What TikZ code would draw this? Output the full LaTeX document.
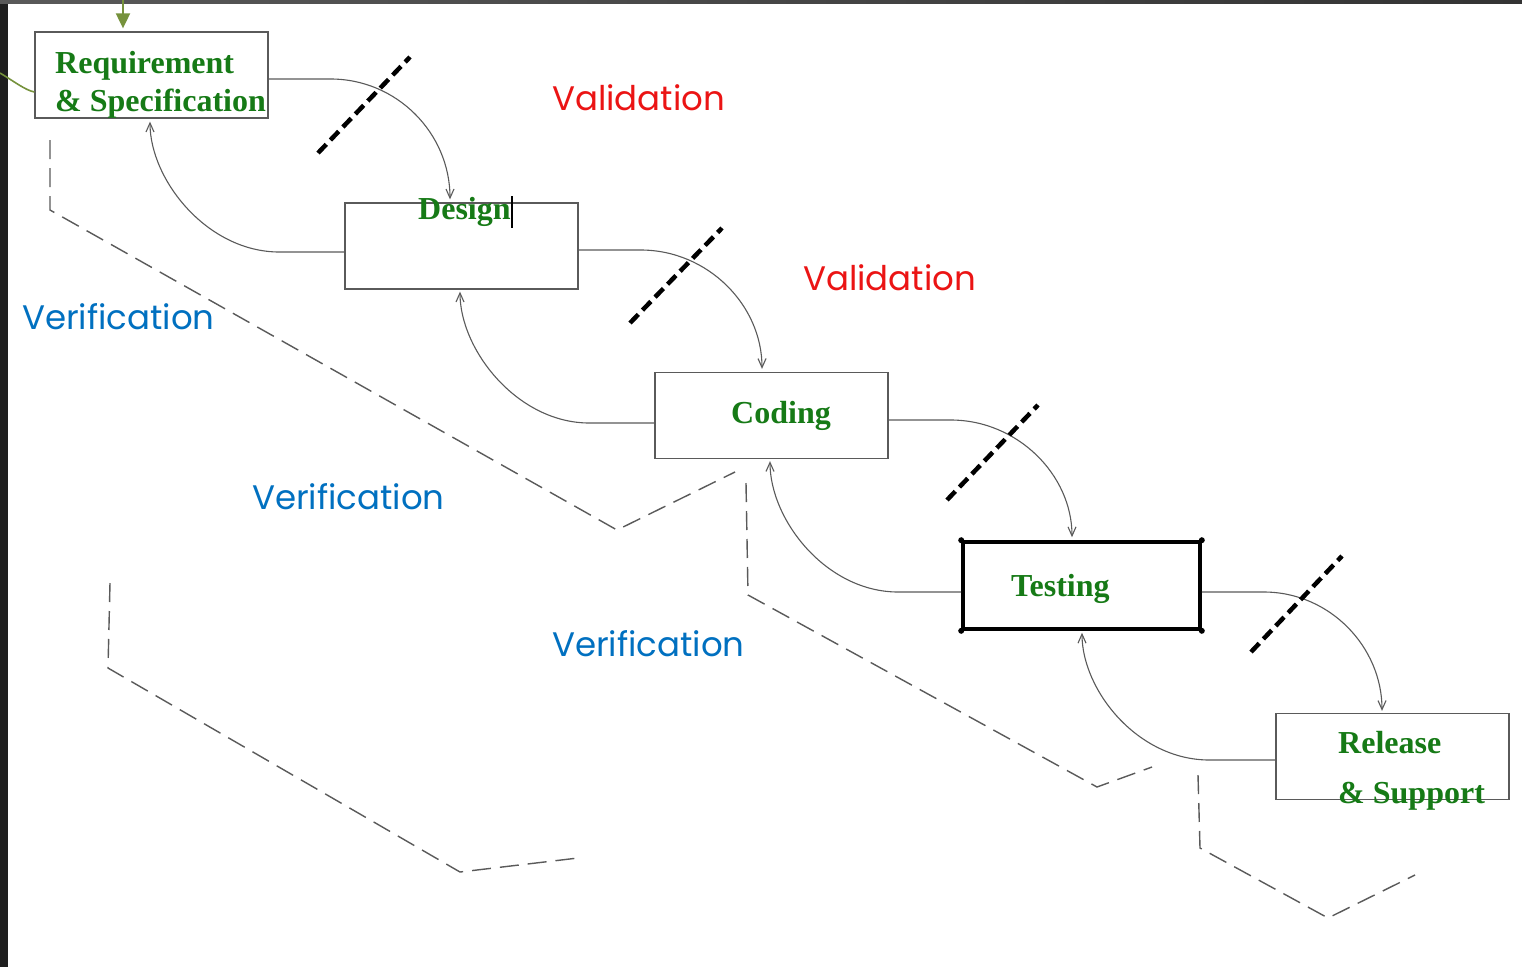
\documentclass[tikz,border=0pt]{standalone}
\usepackage{fontspec}
\usetikzlibrary{arrows.meta,calc}
\newfontfamily\boxfont{Liberation Serif}
\newfontfamily\labfont{Poppins}
\definecolor{boxgreen}{RGB}{22,122,22}
\definecolor{olivegreen}{RGB}{118,146,60}
\definecolor{valred}{RGB}{235,20,20}
\definecolor{verblue}{RGB}{0,112,192}
\definecolor{linegray}{RGB}{90,90,90}
\tikzset{
  stagebox/.style={draw=linegray, line width=1.3pt, minimum width=233pt, minimum height=86pt, inner sep=0pt},
  boxtext/.style={font=\boxfont\bfseries\fontsize{32}{34}\selectfont, text=boxgreen, inner sep=0pt, anchor=base west},
  flow/.style={draw=linegray, line width=1.1pt, -{Straight Barb[length=9pt,width=8pt]}},
  slash/.style={draw=black, line width=4.5pt, dash pattern=on 12pt off 6pt},
  verif/.style={draw=linegray, line width=1.4pt, dash pattern=on 19pt off 9pt},
  vallabel/.style={font=\labfont\fontsize{34}{36}\selectfont, text=valred, inner sep=0pt, anchor=base west},
  verlabel/.style={font=\labfont\fontsize{34}{36}\selectfont, text=verblue, inner sep=0pt, anchor=base west}
}
\begin{document}
\begin{tikzpicture}[x=1pt,y=-1pt]
\useasboundingbox (0,0) rectangle (1522,967);
\fill[white] (0,0) rectangle (1522,967);
\fill[black!88] (0,0) rectangle (8,967);
\shade[left color=black!65, right color=black!80] (0,0) rectangle (1522,3);

% boxes
\node[stagebox] (req) at (151.5,75) {};
\node[stagebox] (des) at (461.5,246) {};
\node[stagebox] (cod) at (771.5,415.5) {};
\node[stagebox, draw=black, line width=3.6pt, minimum width=237pt, minimum height=87pt] (tst) at (1081.5,585.5) {};
\node[stagebox] (rel) at (1392.5,756.5) {};
\foreach \c in {north west, north east, south west, south east}
  \fill (tst.\c) circle (3pt);

% box texts
\node[boxtext] (reqA) at (55,73) {Requirement};
\node[boxtext] (reqB) at (55,111) {\& Specification};
\node[boxtext] (desT) at (418,219) {Design};
\node[boxtext] (codT) at (731,423) {Coding};
\node[boxtext] (tstT) at (1011,596) {Testing};
\node[boxtext] (relA) at (1338,753) {Release};
\node[boxtext] (relB) at (1338,803) {\& Support};
\draw[black, line width=1.4pt] (desT.base east) ++(1,-23) -- ++(0,32);

% incoming green connectors
\coordinate (topin) at (123,0);
\coordinate (leftin) at (0,73);
\draw[olivegreen, line width=2pt, -{Triangle[length=15pt,width=14pt]}] (topin) -- ([yshift=3pt]req.north -| topin);
\draw[olivegreen, line width=1.6pt] (leftin) .. controls (15,82) and (25,90) .. ([yshift=-17pt]req.west);

% forward arrows
\draw[flow] ([yshift=-4pt]req.east) -- ++(62,0) .. controls +(66,0) and (450,133) .. ([xshift=-11.5pt,yshift=3pt]des.north);
\draw[flow] ([yshift=-4pt]des.east) -- ++(62,0) .. controls +(67,0) and (762,305) .. ([xshift=-9.5pt,yshift=3pt]cod.north);
\draw[flow] ([yshift=-4.5pt]cod.east) -- ++(62,0) .. controls +(67,0) and (1072,475) .. ([xshift=-9.5pt,yshift=3pt]tst.north);
\draw[flow] ([yshift=-6.5pt]tst.east) -- ++(62,0) .. controls +(66,0) and (1382,647) .. ([xshift=-10.5pt,yshift=2pt]rel.north);

% backward arrows
\draw[flow] ([yshift=-6pt]des.west) -- ++(-65,0) .. controls +(-72,0) and (150,180) .. ([xshift=-1.5pt,yshift=-3pt]req.south);
\draw[flow] ([yshift=-7.5pt]cod.west) -- ++(-65,0) .. controls +(-72,0) and (460,350) .. ([xshift=-1.5pt,yshift=-2pt]des.south);
\draw[flow] ([yshift=-6.5pt]tst.west) -- ++(-63,0) .. controls +(-72,0) and (770,520) .. ([xshift=-1.5pt,yshift=-2pt]cod.south);
\draw[flow] ([yshift=-3.5pt]rel.west) -- ++(-66,0) .. controls +(-72,0) and (1082,690) .. ([xshift=0.5pt,yshift=-2pt]tst.south);

% thick slashes (validation cuts)
\coordinate (s1a) at (318,153); \coordinate (s1b) at (410,57);
\coordinate (s2a) at (630,323); \coordinate (s2b) at (722,228);
\coordinate (s3a) at (947,500); \coordinate (s3b) at (1038,405);
\coordinate (s4a) at (1251,652); \coordinate (s4b) at (1342,556);
\draw[slash] (s1a) -- (s1b);
\draw[slash] (s2a) -- (s2b);
\draw[slash] (s3a) -- (s3b);
\draw[slash] (s4a) -- (s4b);

% verification dashed paths
\coordinate (v1a) at (50,140); \coordinate (v1b) at (50,210); \coordinate (v1c) at (617,530); \coordinate (v1d) at (735,472);
\coordinate (v2a) at (746,483); \coordinate (v2b) at (748,595); \coordinate (v2c) at (1097,787); \coordinate (v2d) at (1152,767);
\coordinate (v3a) at (1198,775); \coordinate (v3b) at (1200,848); \coordinate (v3c) at (1328,918); \coordinate (v3d) at (1415,875);
\coordinate (v4a) at (110,583); \coordinate (v4b) at (108,668); \coordinate (v4c) at (460,872); \coordinate (v4d) at (578,858);
\draw[verif] (v1a) -- (v1b) -- (v1c) -- (v1d);
\draw[verif] (v2a) -- (v2b) -- (v2c) -- (v2d);
\draw[verif] (v3a) -- (v3b) -- (v3c) -- (v3d);
\draw[verif] (v4a) -- (v4b) -- (v4c) -- (v4d);

% labels
\node[vallabel] (val1) at (552,110) {Validation};
\node[vallabel] (val2) at (803,290) {Validation};
\node[verlabel] (ver1) at (22,329) {Verification};
\node[verlabel] (ver2) at (252,509) {Verification};
\node[verlabel] (ver3) at (552,656) {Verification};
\end{tikzpicture}
\end{document}
